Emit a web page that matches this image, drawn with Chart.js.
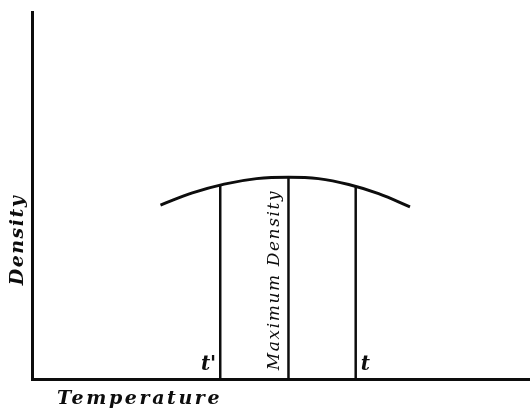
<!DOCTYPE html>
<html>
<head>
<meta charset="utf-8">
<script src="https://cdn.jsdelivr.net/npm/chart.js@4/dist/chart.umd.min.js"></script>
<style>
  html, body { margin: 0; padding: 0; background: #fff; }
  #wrap { width: 530px; height: 409px; position: relative; }
</style>
</head>
<body>
<div id="wrap"><canvas id="c" width="530" height="409"></canvas></div>
<script>
// Density curve (temperature, density) in arbitrary units
const curveTemp = [25.8, 32.2, 38.6, 45.1, 51.5, 57.5, 63.6, 69.6, 75.9];
const curveDensity = [47.4, 50.7, 53.1, 54.6, 55.0, 54.6, 53.0, 50.5, 46.9];
// Marked temperatures: t', maximum density, t
const markLabels = ["t'", "Maximum Density", "t"];
const markTemp = [37.8, 51.5, 65.0];
const markDensity = [52.8, 55.0, 52.5];
const xAxisTitle = "Temperature";
const yAxisTitle = "Density";

const ink = '#0d0d0d';

const curvePts = curveTemp.map((x, i) => ({ x, y: curveDensity[i] }));
const markSets = markTemp.map((x, i) => ({
  data: [{ x, y: 0 }, { x, y: markDensity[i] }],
  borderColor: ink, borderWidth: 2.5, pointRadius: 0, showLine: true, tension: 0
}));

const labelPlugin = {
  id: 'labels',
  afterDraw(chart) {
    const { ctx, chartArea, scales } = chart;
    const xs = scales.x, ys = scales.y;
    ctx.save();
    ctx.fillStyle = ink;
    // t' (left of its line)
    ctx.font = 'italic bold 20px "DejaVu Serif"';
    ctx.textBaseline = 'alphabetic';
    ctx.textAlign = 'right';
    ctx.fillText(markLabels[0], xs.getPixelForValue(markTemp[0]) - 4, chartArea.bottom - 9);
    // t (right of its line)
    ctx.textAlign = 'left';
    ctx.fillText(markLabels[2], xs.getPixelForValue(markTemp[2]) + 5, chartArea.bottom - 9);
    // Maximum Density along the middle line
    ctx.save();
    ctx.translate(xs.getPixelForValue(markTemp[1]) - 9, (chartArea.bottom + ys.getPixelForValue(markDensity[1])) / 2 + 2);
    ctx.rotate(-Math.PI / 2);
    ctx.font = 'italic 17px "DejaVu Serif"';
    ctx.letterSpacing = '1.6px';
    ctx.textAlign = 'center';
    ctx.textBaseline = 'alphabetic';
    ctx.fillText(markLabels[1], 0, 0);
    ctx.restore();
    // x-axis title
    ctx.font = 'italic bold 19px "DejaVu Serif"';
    ctx.letterSpacing = '2.6px';
    ctx.textAlign = 'left';
    ctx.textBaseline = 'alphabetic';
    ctx.fillText(xAxisTitle, chartArea.left + 25, chartArea.bottom + 25);
    // y-axis title
    ctx.save();
    ctx.translate(chartArea.left - 9, 240);
    ctx.rotate(-Math.PI / 2);
    ctx.font = 'italic bold 19px "DejaVu Serif"';
    ctx.letterSpacing = '1.5px';
    ctx.textAlign = 'center';
    ctx.fillText(yAxisTitle, 0, 0);
    ctx.restore();
    ctx.restore();
  }
};

new Chart(document.getElementById('c'), {
  type: 'scatter',
  data: {
    datasets: [
      { data: curvePts, borderColor: ink, borderWidth: 3, pointRadius: 0, showLine: true,
        tension: 0.4 },
      ...markSets
    ]
  },
  options: {
    responsive: false,
    animation: false,
    devicePixelRatio: 1,
    layout: { padding: { left: 32, top: 12, right: 0, bottom: 30 } },
    plugins: { legend: { display: false }, tooltip: { enabled: false } },
    scales: {
      x: { type: 'linear', min: 0, max: 100,
           ticks: { display: false }, grid: { display: false, drawTicks: false },
           border: { display: true, color: ink, width: 3 } },
      y: { type: 'linear', min: 0, max: 100,
           ticks: { display: false }, grid: { display: false, drawTicks: false },
           border: { display: true, color: ink, width: 3 } }
    }
  },
  plugins: [labelPlugin]
});
</script>
</body>
</html>
